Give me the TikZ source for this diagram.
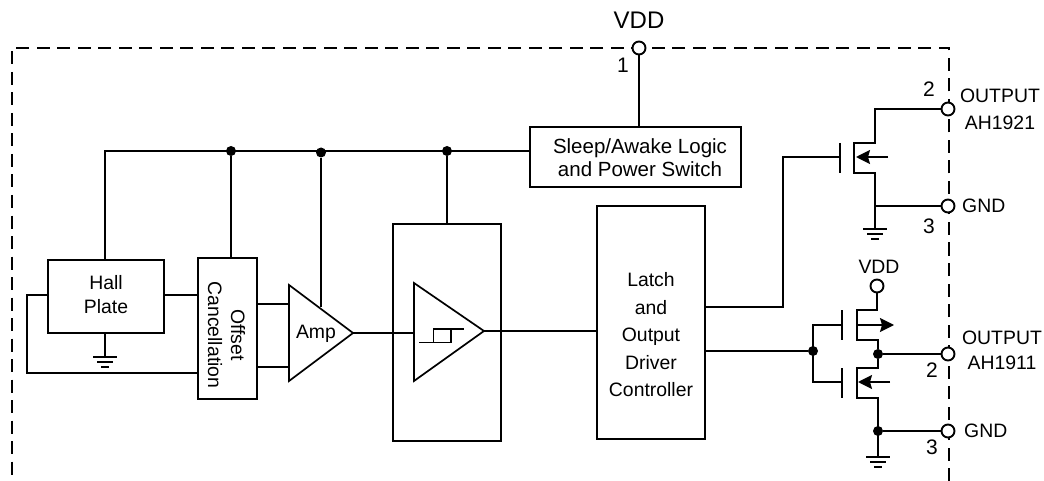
\documentclass[tikz,border=0pt]{standalone}
\usepackage{fontspec}
\setmainfont{Liberation Sans}
\usetikzlibrary{arrows.meta}
\tikzset{
  wire/.style={line width=1.7pt,line join=miter},
  boxnode/.style={draw,line width=1.7pt,fill=white,inner sep=0pt,align=center},
  boxtext/.style={inner sep=0pt,align=center},
  pin/.style={circle,draw,line width=1.9pt,fill=white,minimum size=13pt,inner sep=0pt},
  jdot/.style={circle,fill=black,minimum size=10pt,inner sep=0pt},
  lab/.style={inner sep=0pt,font=\fontsize{19.4}{20}\selectfont},
  num/.style={inner sep=0pt,font=\fontsize{21}{22}\selectfont},
  border/.style={line width=1.5pt,dash pattern=on 13pt off 7.5pt},
  mosarrow/.style={wire,-{Stealth[length=14pt,width=14pt,inset=2pt]}}
}
\newcommand{\groundsym}[1]{%
  \draw[line width=1.7pt] ([xshift=-12pt]#1) -- ([xshift=12pt]#1);
  \draw[line width=1.7pt] ([xshift=-8pt,yshift=-5pt]#1) -- ([xshift=8pt,yshift=-5pt]#1);
  \draw[line width=1.7pt] ([xshift=-4pt,yshift=-10pt]#1) -- ([xshift=4pt,yshift=-10pt]#1);
}
\begin{document}
\begin{tikzpicture}[x=1pt,y=-1pt]
\useasboundingbox (0,0) rectangle (1044,481);
% border
\coordinate (bl) at (12,481);
\coordinate (tl) at (12,48);
\coordinate (tr) at (949,48);
\coordinate (br) at (949,481);
\draw[border] (br) -- (tr) -- (tl) -- (bl);

% boxes
\node[boxnode,minimum width=211pt,minimum height=60pt] (sleep) at (635.5,157) {};
\node[boxtext,font=\fontsize{20.5}{23}\selectfont] (sleeptext) at (640,158) {Sleep/Awake Logic\\and Power Switch};
\node[boxnode,minimum width=116pt,minimum height=73pt] (hall) at (106,296.5) {};
\node[boxtext,font=\fontsize{19.4}{24}\selectfont] (halltext) at (106,295) {Hall\\Plate};
\node[boxnode,minimum width=59pt,minimum height=141pt] (offset) at (227.5,328.5) {};
\node[rotate=-90,boxtext,font=\fontsize{19.4}{23}\selectfont] (offsettext) at (226.5,335) {Offset\\Cancellation};
\node[boxnode,minimum width=108pt,minimum height=217pt] (comp) at (447,332.5) {};
\node[boxnode,minimum width=108pt,minimum height=233pt] (latch) at (651,322.5) {};
\node[boxtext,font=\fontsize{19.4}{27.5}\selectfont] (latchtext) at (651,335) {Latch\\and\\Output\\Driver\\Controller};

% triangles
\coordinate (ampA) at (289,285);
\coordinate (ampB) at (289,381);
\coordinate (ampO) at (353,333);
\draw[wire,fill=white] (ampA) -- (ampO) -- (ampB) -- cycle;
\node[lab] (amptext) at (316,334) {Amp};
\coordinate (cmpA) at (414,283);
\coordinate (cmpB) at (414,381);
\coordinate (cmpO) at (484,331);

% rail
\coordinate (railL) at (105,151);
\node[jdot] (j1) at (231,151) {};
\node[jdot] (j2) at (321,152.5) {};
\node[jdot] (j3) at (447,151) {};
\coordinate (sleepW) at (530,151);
\draw[wire] (hall.north -| railL) -- (railL) -- (sleepW);
\draw[wire] (j1) -- (j1 |- offset.north);
\coordinate (ampTop) at (321,307);
\draw[wire] (j2) -- (ampTop);
\draw[wire] (j3) -- (j3 |- comp.north);

% VDD
\node[pin] (vdd) at (639,48) {};
\draw[wire] (vdd) -- (vdd |- sleep.north);
\node[lab,font=\fontsize{24}{26}\selectfont] (vddtext) at (639,20) {VDD};
\node[num] (n1) at (623,65) {1};

% hall connections
\coordinate (hallW) at (48,295);
\coordinate (loopA) at (27,295);
\coordinate (loopB) at (27,373);
\coordinate (loopC) at (198,373);
\draw[wire] (hallW) -- (loopA) -- (loopB) -- (loopC);
\coordinate (hallE) at (164,295);
\coordinate (offW) at (198,295);
\draw[wire] (hallE) -- (offW);
\coordinate (hallG) at (105,357);
\draw[wire] (hall.south -| hallG) -- (hallG);
\groundsym{hallG}
\coordinate (off1) at (257,304);
\coordinate (amp1) at (289,304);
\coordinate (off2) at (257,367);
\coordinate (amp2) at (289,367);
\draw[wire] (off1) -- (amp1);
\draw[wire] (off2) -- (amp2);

% amp to comparator
\coordinate (cmpI) at (414,333);
\draw[wire] (ampO) -- (cmpI);
\draw[wire] (cmpA) -- (cmpO) -- (cmpB) -- cycle;
\coordinate (latchW) at (597,331);
\draw[wire] (cmpO) -- (latchW);
% hysteresis
\coordinate (h1) at (419,342.7);
\coordinate (h2) at (451,342.7);
\coordinate (h3) at (451,329);
\coordinate (h4) at (433.7,329);
\coordinate (h5) at (433.7,342.7);
\coordinate (h6) at (464,329);
\draw[line width=1.5pt] (h1) -- (h2) -- (h3);
\draw[line width=1.5pt] (h5) -- (h4) -- (h6);

% top MOSFET
\node[pin] (out1) at (948,109) {};
\node[pin] (gnd1) at (948,206) {};
\coordinate (d1) at (875,109);
\coordinate (d1b) at (875,143);
\coordinate (c1t) at (854,143);
\coordinate (c1b) at (854,173);
\coordinate (s1) at (875,173);
\coordinate (g1j) at (875,206);
\coordinate (g1) at (875,229);
\coordinate (pl1t) at (840,143);
\coordinate (pl1b) at (840,173);
\coordinate (gate1) at (840,157);
\coordinate (lead1) at (783,157);
\coordinate (lead1b) at (783,307);
\coordinate (latchE1) at (705,307);
\draw[wire] (out1) -- (d1) -- (d1b) -- (c1t) -- (c1b) -- (s1) -- (g1);
\draw[wire] (g1j) -- (gnd1);
\draw[wire] (pl1t) -- (pl1b);
\draw[wire] (latchE1) -- (lead1b) -- (lead1) -- (gate1);
\coordinate (a1s) at (888,157);
\coordinate (a1e) at (856,157);
\draw[mosarrow] (a1s) -- (a1e);
\groundsym{g1}

% bottom MOSFETs
\node[pin] (vdd2) at (877,286) {};
\node[pin] (out2) at (948,354) {};
\node[pin] (gnd2) at (948,431) {};
\node[jdot] (jg) at (813,351) {};
\node[jdot] (jo) at (878,354) {};
\node[jdot] (js) at (878,431) {};
\coordinate (latchE2) at (705,351);
\draw[wire] (latchE2) -- (jg);
\coordinate (gu) at (813,325);
\coordinate (gl) at (813,382);
\coordinate (gup) at (842,325);
\coordinate (glp) at (842,382);
\coordinate (pu1) at (842,310);
\coordinate (pu2) at (842,340);
\coordinate (pl1) at (842,368);
\coordinate (pl2) at (842,398);
\draw[wire] (gup) -- (gu) -- (gl) -- (glp);
\draw[wire] (pu1) -- (pu2);
\draw[wire] (pl1) -- (pl2);
\coordinate (v2) at (877,310);
\coordinate (c2a) at (857,310);
\coordinate (c2b) at (857,340);
\coordinate (c2c) at (878,340);
\draw[wire] (vdd2) -- (v2) -- (c2a) -- (c2b) -- (c2c) -- (jo);
\coordinate (c3a) at (878,368);
\coordinate (c3b) at (857,368);
\coordinate (c3c) at (857,398);
\coordinate (c3d) at (878,398);
\coordinate (g2) at (878,457);
\draw[wire] (jo) -- (c3a) -- (c3b) -- (c3c) -- (c3d) -- (g2);
\draw[wire] (jo) -- (out2);
\draw[wire] (js) -- (gnd2);
\groundsym{g2}
\coordinate (a2s) at (857,325);
\coordinate (a2e) at (894,325);
\draw[mosarrow] (a2s) -- (a2e);
\coordinate (a3s) at (890,382);
\coordinate (a3e) at (858,382);
\draw[mosarrow] (a3s) -- (a3e);

% labels
\node[num] (n2a) at (929,89) {2};
\node[num] (n3a) at (929,226) {3};
\node[lab] (o1a) at (1000,96) {OUTPUT};
\node[lab] (o1b) at (1000,123) {AH1921};
\node[lab,anchor=west] (g1t) at (962,206) {GND};
\node[lab] (v2t) at (879,267) {VDD};
\node[lab] (o2a) at (1002,338) {OUTPUT};
\node[lab] (o2b) at (1002,363) {AH1911};
\node[lab,anchor=west] (g2t) at (964,431) {GND};
\node[num] (n2b) at (932,370) {2};
\node[num] (n3b) at (932,447) {3};
\end{tikzpicture}
\end{document}
